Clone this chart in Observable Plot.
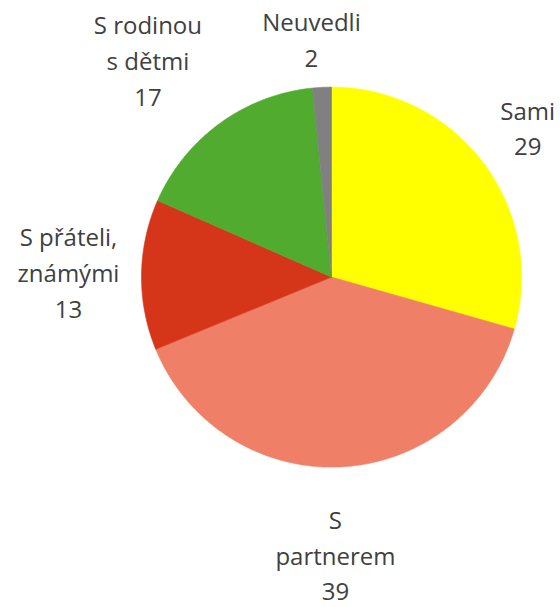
<!DOCTYPE html>
<html>
<head>
<meta charset="utf-8">
<script src="https://cdn.jsdelivr.net/npm/d3@7"></script>
<script src="https://cdn.jsdelivr.net/npm/@observablehq/plot@0.6"></script>
<style>
  html, body { margin: 0; padding: 0; background: #fff; }
  #chart svg { display: block; }
</style>
</head>
<body>
<div id="chart"></div>
<script>
// ---- data ----
const categories = ["Sami", "S partnerem", "S přáteli, známými", "S rodinou s dětmi", "Neuvedli"];
const values = [29.4, 39.4, 12.8, 16.8, 1.6];
const valueLabels = ["29", "39", "13", "17", "2"];
const labelLines = [["Sami"], ["S", "partnerem"], ["S přáteli,", "známými"], ["S rodinou", "s dětmi"], ["Neuvedli"]];
const colors = ["#FFFF00", "#F07F67", "#D5361A", "#50AB2E", "#808080"];

// ---- layout (not data) ----
const W = 560, H = 607;
const cx = 331, cy = 276.6, R = 190;
// label placement: polar angle (deg, clockwise from top) and distance from pie centre
const labelAngle = [53.5, 179.2, 270.1, 319.2, 355.1];
const labelDist = [244, 282, 263, 281, 234.5];

const pie = d3.pie().sort(null).value(d => d)(values);

const slicePoints = [];
pie.forEach((p, i) => {
  const n = Math.max(8, Math.ceil((p.endAngle - p.startAngle) / (Math.PI / 360)));
  slicePoints.push({key: categories[i], x: 0, y: 0});
  for (let k = 0; k <= n; k++) {
    const a = p.startAngle + (p.endAngle - p.startAngle) * k / n;
    slicePoints.push({key: categories[i], x: R * Math.sin(a), y: R * Math.cos(a)});
  }
  slicePoints.push({key: categories[i], x: 0, y: 0});
});

const labels = categories.map((c, i) => {
  const a = labelAngle[i] * Math.PI / 180;
  return {
    key: c,
    text: [...labelLines[i], valueLabels[i]].join("\n"),
    x: labelDist[i] * Math.sin(a),
    y: labelDist[i] * Math.cos(a)
  };
});

const chart = Plot.plot({
  width: W,
  height: H,
  margin: 0,
  x: {domain: [-cx, W - cx], axis: null},
  y: {domain: [cy - H, cy], axis: null},
  color: {domain: categories, range: colors},
  style: {background: "#fff"},
  marks: [
    Plot.line(slicePoints, {x: "x", y: "y", z: "key", fill: "key", stroke: "key", strokeWidth: 0.6, curve: "linear"}),
    Plot.text(labels, {
      x: "x", y: "y", text: "text",
      fill: "#404040",
      fontSize: 24,
      fontFamily: "'Open Sans', 'Noto Sans', sans-serif",
      lineHeight: 1.49,
      lineAnchor: "middle",
      textAnchor: "middle",
      dy: -6
    })
  ]
});
document.getElementById("chart").appendChild(chart);
</script>
</body>
</html>
